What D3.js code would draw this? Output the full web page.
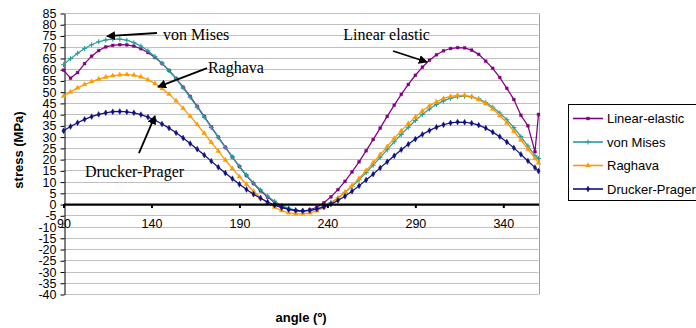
<!DOCTYPE html>
<html>
<head>
<meta charset="utf-8">
<script src="https://cdn.jsdelivr.net/npm/d3@7"></script>
<style>
  body { margin: 0; background: #fff; }
  svg { display: block; }
  .sans { font-family: "Liberation Sans", Arial, sans-serif; }
  .serif { font-family: "Liberation Serif", "Times New Roman", serif; }
</style>
</head>
<body>
<svg id="chart" width="696" height="328"></svg>
<script>
// Loading angle (degrees) at which each stress value was computed
const angles = [90,94,98,102,106,110,114,118,122,126,130,134,138,142,146,150,154,158,162,166,
  170,174,178,182,186,190,194,198,202,206,210,214,218,222,226,230,234,238,242,246,
  250,254,258,262,266,270,274,278,282,286,290,294,298,302,306,310,314,318,322,326,
  330,334,338,342,346,350,354,358,360];

// Stress (MPa) for each material model
const linearElastic = [59.6,56.0,58.5,62.5,65.8,68.3,69.9,70.6,70.9,70.8,
  70.3,69.1,67.4,65.2,62.6,59.4,55.9,52.0,47.9,43.5,
  39.0,34.4,29.8,25.3,20.9,16.7,12.7,9.1,5.9,3.1,
  0.8,-1.1,-2.3,-3.0,-3.2,-2.6,-1.4,0.6,3.2,6.4,
  10.1,14.3,18.8,23.7,28.7,33.8,39.0,44.0,48.8,53.2,
  57.3,60.9,64.0,66.4,68.2,69.2,69.6,69.5,68.5,66.6,
  63.6,60.4,56.3,51.5,46.5,39.5,34.8,23.3,39.9];

const vonMises = [62.0,64.7,67.1,69.2,70.9,72.2,73.0,73.4,73.4,72.9,
  71.8,70.3,68.2,65.6,62.7,59.4,55.7,51.7,47.5,43.1,
  38.7,34.1,29.6,25.2,20.9,16.8,12.9,9.4,6.3,3.5,
  1.2,-0.6,-1.9,-2.7,-3.0,-2.8,-2.1,-0.9,0.7,2.7,
  5.1,7.8,10.8,14.0,17.3,20.8,24.2,27.7,31.0,34.2,
  37.2,39.9,42.3,44.3,45.9,47.1,47.8,48.0,47.7,46.8,
  45.2,43.1,40.5,37.5,34.0,30.0,25.8,21.6,20.3];

const raghava = [48.0,49.9,51.7,53.2,54.5,55.6,56.5,57.1,57.5,57.6,
  57.4,56.6,55.3,53.6,51.4,48.9,45.9,42.6,39.1,35.4,
  31.5,27.5,23.6,19.6,15.8,12.2,8.8,5.7,2.9,0.5,
  -1.4,-2.9,-3.9,-4.4,-4.4,-3.9,-3.0,-1.5,0.4,2.6,
  5.3,8.2,11.4,14.9,18.4,22.0,25.6,29.2,32.6,35.8,
  38.7,41.4,43.7,45.5,47.0,47.9,48.4,48.4,47.8,46.5,
  44.7,42.3,39.4,36.1,32.4,28.5,24.5,20.3,18.3];

const druckerPrager = [32.6,34.5,36.2,37.7,38.9,39.9,40.6,41.1,41.2,41.0,
  40.6,39.8,38.7,37.3,35.6,33.8,31.7,29.4,26.9,24.4,
  21.8,19.1,16.4,13.8,11.3,8.8,6.5,4.4,2.6,0.9,
  -0.5,-1.6,-2.4,-2.8,-3.0,-2.8,-2.2,-1.3,0.0,1.6,
  3.5,5.7,8.1,10.7,13.3,16.1,18.8,21.5,24.2,26.6,
  28.9,31.0,32.7,34.2,35.3,36.1,36.5,36.4,36.0,35.1,
  33.8,32.0,30.0,27.6,25.0,22.1,19.2,16.2,14.7];

const seriesNames = ["Linear-elastic", "von Mises", "Raghava", "Drucker-Prager"];
const seriesValues = [linearElastic, vonMises, raghava, druckerPrager];
const seriesColors = ["#800080", "#2a9d9d", "#ff9900", "#10107f"];
const seriesMarkers = ["square", "plus", "triangle", "diamond"];

const xTicks = [90, 140, 190, 240, 290, 340];
const yTicks = [85,80,75,70,65,60,55,50,45,40,35,30,25,20,15,10,5,0,-5,-10,-15,-20,-25,-30,-35,-40];

// Callout labels: text anchor point and arrow (from -> to), in data units
const callouts = [
  { text: "von Mises",      anchor: "start", tx: 146.6, ty: 73.0, x1: 143.1, y1: 76.1, x2: 114.7, y2: 74.7 },
  { text: "Raghava",        anchor: "start", tx: 172.1, ty: 58.3, x1: 171.6, y1: 60.5, x2: 143.7, y2: 52.1 },
  { text: "Linear elastic", anchor: "end",   tx: 298.3, ty: 73.0, x1: 277.3, y1: 68.1, x2: 296.6, y2: 63.2 },
  { text: "Drucker-Prager", anchor: "start", tx: 102.2, ty: 12.1, x1: 132.9, y1: 22.7, x2: 142.0, y2: 39.2 }
];

const svg = d3.select("#chart");
const x = d3.scaleLinear().domain([90, 360]).range([63.5, 538.5]);
const y = d3.scaleLinear().domain([-40, 85]).range([294, 13]);

// Horizontal gridlines
svg.append("g")
  .selectAll("line")
  .data(yTicks)
  .join("line")
  .attr("x1", x(90)).attr("x2", x(360))
  .attr("y1", d => Math.round(y(d)) + 0.5).attr("y2", d => Math.round(y(d)) + 0.5)
  .attr("stroke", "#c0c0c0").attr("stroke-width", 1);

// Plot area right border
svg.append("line")
  .attr("x1", Math.round(x(360)) + 0.5).attr("x2", Math.round(x(360)) + 0.5)
  .attr("y1", Math.round(y(85)) + 0.5).attr("y2", Math.round(y(-40)) + 0.5)
  .attr("stroke", "#a0a0a0").attr("stroke-width", 1);

// Y axis
const yAxis = svg.append("g")
  .attr("class", "sans")
  .attr("transform", `translate(${Math.round(x(90)) + 0.5},0.5)`)
  .call(d3.axisLeft(y).tickValues(yTicks).tickSize(4).tickSizeOuter(0).tickPadding(4).tickFormat(d => String(d)));
yAxis.selectAll("text").attr("font-size", 12.5).attr("fill", "#000").attr("font-family", "Liberation Sans, Arial, sans-serif");
yAxis.selectAll("line").attr("stroke", "#000");
yAxis.select(".domain").attr("stroke", "#000");

// Marker symbols
function markerPath(kind) {
  if (kind === "plus") return "M-2.5,0H2.5M0,-2.5V2.5";
  if (kind === "square") return d3.symbol(d3.symbolSquare, 8)();
  if (kind === "triangle") return d3.symbol(d3.symbolTriangle, 10)();
  return d3.symbol(d3.symbolDiamond, 10)();
}

const line = d3.line().x((d, i) => x(angles[i])).y(d => y(d));

// Series lines and markers
seriesValues.forEach((vals, s) => {
  const g = svg.append("g");
  g.append("path")
    .attr("d", line(vals))
    .attr("fill", "none")
    .attr("stroke", seriesColors[s])
    .attr("stroke-width", 1.25);
  const kind = seriesMarkers[s];
  g.selectAll("path.mk")
    .data(vals)
    .join("path")
    .attr("class", "mk")
    .attr("d", markerPath(kind))
    .attr("transform", (d, i) => `translate(${x(angles[i])},${y(d)})`)
    .attr("fill", kind === "plus" ? "none" : seriesColors[s])
    .attr("stroke", seriesColors[s])
    .attr("stroke-width", kind === "plus" ? 1.1 : 0.4);
});

// X axis crossing at zero stress
const xAxis = svg.append("g")
  .attr("class", "sans")
  .attr("transform", `translate(0,${y(0)})`)
  .call(d3.axisBottom(x).tickValues(xTicks).tickSize(4).tickSizeOuter(0).tickPadding(11).tickFormat(d => String(d)));
xAxis.selectAll("text").attr("font-size", 12.5).attr("fill", "#000").attr("font-family", "Liberation Sans, Arial, sans-serif");
xAxis.selectAll(".tick line").attr("stroke", "#000").attr("stroke-width", 2);
xAxis.select(".domain").attr("stroke", "#000").attr("stroke-width", 2.2);

// Axis titles
svg.append("text")
  .attr("class", "sans")
  .attr("transform", "translate(23,150) rotate(-90)")
  .attr("text-anchor", "middle")
  .attr("font-size", 13).attr("font-weight", "bold")
  .text("stress (MPa)");

svg.append("text")
  .attr("class", "sans")
  .attr("x", (x(90) + x(360)) / 2).attr("y", 322)
  .attr("text-anchor", "middle")
  .attr("font-size", 13).attr("font-weight", "bold")
  .text("angle (º)");

// Callouts with arrows
const defs = svg.append("defs");
defs.append("marker")
  .attr("id", "arrowhead")
  .attr("viewBox", "0 0 10 10")
  .attr("refX", 9).attr("refY", 5)
  .attr("markerWidth", 5).attr("markerHeight", 5)
  .attr("markerUnits", "strokeWidth")
  .attr("orient", "auto")
  .append("path")
  .attr("d", "M0,0L10,5L0,10Z")
  .attr("fill", "#000");

const cg = svg.append("g");
cg.selectAll("line")
  .data(callouts)
  .join("line")
  .attr("x1", d => x(d.x1)).attr("y1", d => y(d.y1))
  .attr("x2", d => x(d.x2)).attr("y2", d => y(d.y2))
  .attr("stroke", "#000").attr("stroke-width", 1.8)
  .attr("marker-end", "url(#arrowhead)");
cg.selectAll("text")
  .data(callouts)
  .join("text")
  .attr("class", "serif")
  .attr("x", d => x(d.tx)).attr("y", d => y(d.ty))
  .attr("text-anchor", d => d.anchor)
  .attr("font-size", 16)
  .attr("fill", "#000")
  .text(d => d.text);

// Legend
const legend = svg.append("g").attr("class", "sans");
legend.append("rect")
  .attr("x", 568.5).attr("y", 104.5)
  .attr("width", 140).attr("height", 96)
  .attr("fill", "#fff").attr("stroke", "#000").attr("stroke-width", 1);
const rows = legend.selectAll("g.row")
  .data(seriesNames)
  .join("g")
  .attr("class", "row")
  .attr("transform", (d, i) => `translate(0,${118.5 + i * 23.5})`);
rows.append("line")
  .attr("x1", 573).attr("x2", 603)
  .attr("stroke", (d, i) => seriesColors[i]).attr("stroke-width", 1.6);
rows.append("path")
  .attr("d", (d, i) => markerPath(seriesMarkers[i]))
  .attr("transform", "translate(588,0)")
  .attr("fill", (d, i) => seriesMarkers[i] === "plus" ? "none" : seriesColors[i])
  .attr("stroke", (d, i) => seriesColors[i])
  .attr("stroke-width", (d, i) => seriesMarkers[i] === "plus" ? 1.1 : 0.4);
rows.append("text")
  .attr("x", 607).attr("dy", "0.35em")
  .attr("font-size", 13)
  .attr("fill", "#000")
  .text(d => d);
</script>
</body>
</html>
